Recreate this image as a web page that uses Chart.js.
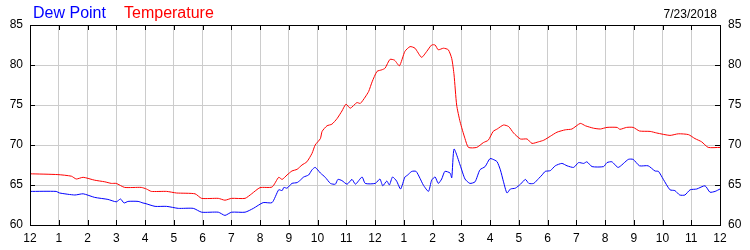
<!DOCTYPE html>
<html lang="en">

<head>
  <meta charset="UTF-8">
  <title>Dew Point and Temperature</title>
  <style>
    body {
      margin: 0;
      background: #fff;
    }

    #wrap {
      width: 750px;
      height: 250px;
    }
  </style>
  <script src="https://cdn.jsdelivr.net/npm/chart.js@4.4.4/dist/chart.umd.js"></script>
</head>

<body>
  <div id="wrap">
    <canvas id="chart"></canvas>
  </div>
</body>
<script>
  // hours since midnight
  const tempHours = [0, 0.97, 1.44, 1.61, 1.85, 2.25, 2.6, 2.83, 3.0, 3.29, 3.87, 4.05, 4.22, 4.75, 5.1, 5.74, 5.97,
    6.55, 6.78, 7.01, 7.48, 7.71, 8.0, 8.42, 8.65, 8.77, 8.94, 9.11, 9.29, 9.46, 9.63, 9.81, 9.92, 10.1, 10.16,
    10.33, 10.5, 10.68, 10.85, 10.99, 11.14, 11.37, 11.49, 11.66, 11.78, 11.9, 12.07, 12.24, 12.35, 12.52, 12.68,
    12.85, 13.04, 13.22, 13.39, 13.62, 13.8, 13.97, 14.09, 14.2, 14.38, 14.55, 14.67, 14.75, 14.84, 14.96, 15.13,
    15.25, 15.54, 15.77, 15.94, 16.11, 16.25, 16.47, 16.65, 16.82, 17.06, 17.29, 17.46, 17.69, 17.87, 18.1, 18.33,
    18.62, 18.85, 19.14, 19.32, 19.6, 19.84, 20.07, 20.42, 20.52, 20.75, 20.98, 21.2, 21.57, 21.8, 22.26, 22.55,
    22.9, 23.13, 23.36, 23.59, 24];
  const temperature = [66.4, 66.3, 66.1, 65.75, 65.96, 65.6, 65.4, 65.2, 65.2, 64.7, 64.7, 64.5, 64.2, 64.2, 64.0,
    63.9, 63.33, 63.33, 63.1, 63.33, 63.33, 63.9, 64.67, 64.75, 65.96, 65.7, 66.25, 66.75, 66.96, 67.5, 67.9, 68.96,
    70.0, 70.8, 71.7, 72.4, 72.6, 73.3, 74.25, 75.1, 74.6, 75.3, 75.2, 76.0, 76.7, 77.9, 79.2, 79.4, 79.6, 80.7,
    80.6, 79.9, 81.7, 82.3, 82.1, 80.96, 81.7, 82.5, 82.5, 81.9, 82.1, 81.9, 80.8, 78.75, 75.0, 72.9, 70.8, 69.7,
    69.7, 70.3, 70.6, 71.7, 72.0, 72.5, 72.3, 71.5, 70.75, 70.75, 70.2, 70.4, 70.6, 71.1, 71.6, 71.9, 72.0, 72.7,
    72.4, 72.1, 72.0, 72.2, 72.2, 71.96, 72.2, 72.2, 71.75, 71.7, 71.5, 71.2, 71.4, 71.3, 70.8, 70.4, 69.7, 69.7];

  const dewHours = [0, 0.91, 1.03, 1.56, 1.85, 2.25, 2.71, 3.0, 3.15, 3.27, 3.41, 3.76, 3.93, 4.0, 4.35, 4.75, 5.16,
    5.68, 5.97, 6.55, 6.78, 7.01, 7.48, 7.77, 8.11, 8.42, 8.65, 8.77, 8.83, 8.94, 9.11, 9.29, 9.4, 9.52, 9.69, 9.81,
    9.92, 10.1, 10.27, 10.45, 10.62, 10.71, 10.85, 11.03, 11.2, 11.32, 11.55, 11.66, 12.01, 12.17, 12.27, 12.41,
    12.5, 12.61, 12.75, 12.89, 13.04, 13.12, 13.28, 13.43, 13.57, 13.68, 13.86, 13.97, 14.09, 14.2, 14.32, 14.43,
    14.61, 14.67, 14.75, 14.96, 15.13, 15.3, 15.48, 15.65, 15.83, 16.0, 16.17, 16.25, 16.36, 16.47, 16.59, 16.71,
    16.88, 17.06, 17.23, 17.35, 17.52, 17.69, 17.81, 17.92, 18.1, 18.27, 18.5, 18.68, 18.91, 19.08, 19.26, 19.37,
    19.55, 19.95, 20.07, 20.24, 20.46, 20.81, 20.98, 21.2, 21.5, 21.74, 21.86, 22.03, 22.26, 22.43, 22.6, 22.78,
    22.96, 23.19, 23.48, 23.65, 23.83, 24];
  const dewPoint = [64.2, 64.2, 64.0, 63.75, 63.9, 63.45, 63.2, 62.9, 63.25, 62.75, 62.95, 62.95, 62.75, 62.7, 62.33,
    62.33, 62.08, 62.08, 61.6, 61.6, 61.2, 61.6, 61.6, 62.08, 62.8, 62.8, 64.4, 64.3, 64.7, 64.6, 65.2, 65.3, 65.6,
    66.0, 66.25, 66.9, 67.2, 66.5, 65.96, 65.2, 65.1, 65.7, 65.55, 65.1, 65.7, 65.1, 66.0, 65.2, 65.2, 65.75, 64.9,
    65.5, 65.0, 66.0, 65.5, 64.5, 66.0, 66.2, 66.7, 66.7, 65.8, 65.0, 64.2, 65.6, 66.0, 65.2, 65.75, 66.7, 66.5,
    65.9, 69.5, 67.5, 65.75, 65.2, 65.4, 66.9, 67.3, 68.3, 68.1, 67.9, 66.9, 65.4, 64.0, 64.5, 64.6, 65.1, 65.7,
    65.2, 65.2, 65.8, 66.25, 66.7, 66.8, 67.4, 67.7, 67.4, 67.2, 67.8, 67.7, 67.9, 67.3, 67.3, 67.8, 67.9, 67.2,
    68.2, 68.2, 67.4, 67.4, 66.75, 66.7, 65.7, 64.4, 64.3, 63.75, 63.75, 64.4, 64.5, 64.9, 64.1, 64.2, 64.5];

  const hourLabels = ['12', '1', '2', '3', '4', '5', '6', '7', '8', '9', '10', '11',
    '12', '1', '2', '3', '4', '5', '6', '7', '8', '9', '10', '11', '12'];
  const dateText = '7/23/2018';

  const FONT = "'Liberation Sans', Arial, sans-serif";

  function points(xs, ys) {
    return xs.map((x, i) => ({ x: x, y: ys[i] }));
  }

  // title texts, frame and the little inward tick marks
  const decorations = {
    id: 'decorations',
    afterDraw(chart) {
      const ctx = chart.ctx;
      const a = chart.chartArea;
      const xs = chart.scales.x;
      const ys = chart.scales.y;
      ctx.save();

      ctx.font = '16px ' + FONT;
      ctx.textBaseline = 'alphabetic';
      ctx.textAlign = 'left';
      ctx.fillStyle = '#0000ff';
      ctx.fillText('Dew Point', 33, 18);
      ctx.fillStyle = '#ff0000';
      ctx.fillText('Temperature', 124, 18);

      ctx.font = '12px ' + FONT;
      ctx.fillStyle = '#000';
      ctx.textAlign = 'right';
      ctx.fillText(dateText, 717, 18);

      ctx.strokeStyle = '#000';
      ctx.lineWidth = 1;
      ctx.beginPath();
      for (let h = 0; h <= 24; h++) {
        const px = Math.round(xs.getPixelForValue(h)) + 0.5;
        ctx.moveTo(px, a.bottom);
        ctx.lineTo(px, a.bottom - 5);
        ctx.moveTo(px, a.top);
        ctx.lineTo(px, a.top + 5);
      }
      for (let v = 60; v <= 85; v += 5) {
        const py = Math.round(ys.getPixelForValue(v)) + 0.5;
        ctx.moveTo(a.left, py);
        ctx.lineTo(a.left + 5, py);
        ctx.moveTo(a.right, py);
        ctx.lineTo(a.right - 5, py);
      }
      ctx.stroke();
      ctx.strokeRect(a.left + 0.5, a.top + 0.5, a.right - a.left, a.bottom - a.top);
      ctx.restore();
    }
  };

  const tickFont = { family: FONT, size: 12 };

  new Chart('chart', {
    type: 'line',
    data: {
      datasets: [{
        label: 'Dew Point',
        data: points(dewHours, dewPoint),
        borderColor: '#0000ff',
        borderWidth: 1,
        pointRadius: 0,
        tension: 0.2,
        yAxisID: 'y'
      },
      {
        label: 'Temperature',
        data: points(tempHours, temperature),
        borderColor: '#ff0000',
        borderWidth: 1,
        pointRadius: 0,
        tension: 0.2,
        yAxisID: 'y'
      }]
    },
    options: {
      responsive: true,
      maintainAspectRatio: false,
      animation: false,
      layout: { padding: { top: 25, left: 0, right: 0, bottom: 0 } },
      plugins: {
        legend: { display: false },
        tooltip: { enabled: false }
      },
      scales: {
        x: {
          type: 'linear',
          min: 0,
          max: 24,
          afterFit: (s) => { s.height = 25; },
          afterBuildTicks: (s) => { s.ticks = hourLabels.map((_, i) => ({ value: i })); },
          ticks: {
            autoSkip: false,
            maxRotation: 0,
            padding: 6,
            color: '#000',
            font: tickFont,
            callback: (v) => hourLabels[v]
          },
          grid: { color: '#cccccc', drawTicks: false },
          border: { display: false }
        },
        y: {
          position: 'left',
          min: 60,
          max: 85,
          afterFit: (s) => { s.width = 30; },
          ticks: { stepSize: 5, padding: 7, color: '#000', font: tickFont },
          grid: { color: '#cccccc', drawTicks: false },
          border: { display: false }
        },
        y2: {
          position: 'right',
          min: 60,
          max: 85,
          afterFit: (s) => { s.width = 30; },
          ticks: { stepSize: 5, padding: 8, color: '#000', font: tickFont },
          grid: { display: false, drawTicks: false },
          border: { display: false }
        }
      }
    },
    plugins: [decorations]
  });
</script>

</html>
